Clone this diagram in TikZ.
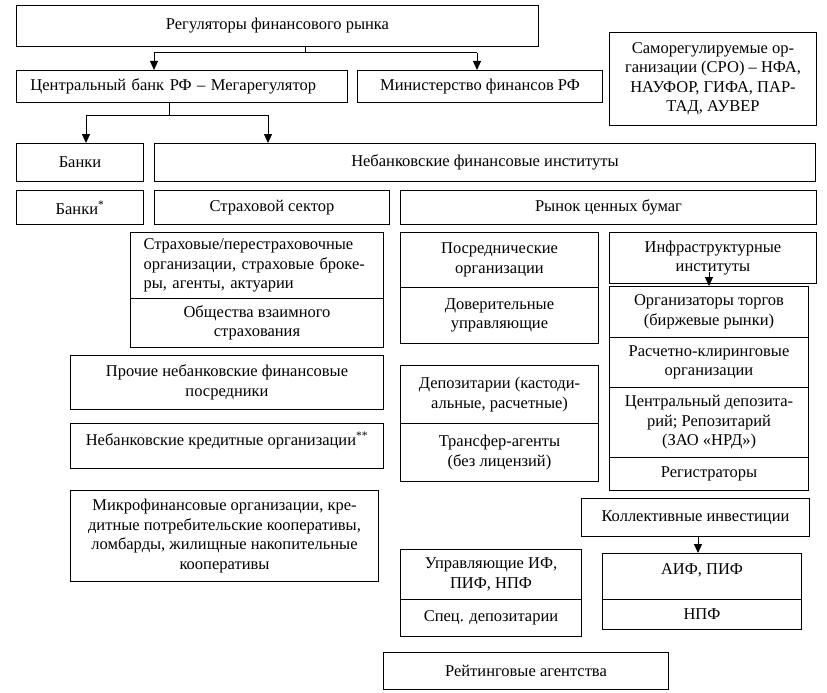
\documentclass[tikz,border=0pt]{standalone}
\usepackage{fontspec}
\setmainfont{Liberation Serif}
\usetikzlibrary{arrows.meta}
\begin{document}
\begin{tikzpicture}[x=1pt,y=-1pt,
  box/.style={draw, line width=1pt, anchor=north west, inner sep=0pt, align=center,
    font=\fontsize{16.5}{19.5}\selectfont},
  lbox/.style={box, align=left},
  link/.style={line width=1pt},
  arr/.style={line width=1pt, -{Triangle[length=9pt,width=8pt]}}]
\useasboundingbox (0,0) rectangle (827,693);
% top level
\node[box, minimum width=522, minimum height=41] (reg) at (16,5) {Регуляторы финансового рынка};
\node[lbox, minimum width=331, minimum height=32, text width=303] (cb) at (16,70) {Центральный банк РФ – Мегарегулятор};
\node[box, minimum width=245, minimum height=32] (minf) at (357,70) {Министерство финансов РФ};
\node[box, minimum width=207, minimum height=93] (sro) at (609,32) {Саморегулируемые ор-\\ганизации (СРО) – НФА,\\НАУФОР, ГИФА, ПАР-\\ТАД, АУВЕР};
% second level
\node[box, minimum width=127, minimum height=38] (banki) at (16,143) {Банки};
\node[box, minimum width=661, minimum height=38] (nbfi) at (154,143) {Небанковские финансовые институты};
\node[box, minimum width=127, minimum height=34] (banki2) at (16,190) {Банки\textsuperscript{*}};
\node[box, minimum width=235, minimum height=34] (ins) at (154,190) {Страховой сектор};
\node[box, minimum width=416, minimum height=34] (rcb) at (400,190) {Рынок ценных бумаг};
% insurance
\node[lbox, minimum width=253, minimum height=66, text width=227] (ins1) at (130,232) {Страховые/перестраховочные\\организации, страховые броке-\\ры, агенты, актуарии};
\node[box, minimum width=253, minimum height=49] (ins2) at (130,298) {Общества взаимного\\страхования};
% left column
\node[box, minimum width=313, minimum height=54] (proch) at (70,355) {Прочие небанковские финансовые\\посредники};
\node[box, minimum width=313, minimum height=45, text depth=14pt] (nko) at (70,423) {Небанковские кредитные организации\textsuperscript{**}};
\node[box, minimum width=308, minimum height=91] (mfo) at (70,490) {Микрофинансовые организации, кре-\\дитные потребительские кооперативы,\\ломбарды, жилищные накопительные\\кооперативы};
% securities: intermediaries
\node[box, minimum width=198, minimum height=55] (pos) at (400,232) {Посреднические\\организации};
\node[box, minimum width=198, minimum height=56] (dov) at (400,287) {Доверительные\\управляющие};
\node[box, minimum width=198, minimum height=58] (depo) at (400,365) {Депозитарии (кастоди-\\альные, расчетные)};
\node[box, minimum width=198, minimum height=58] (trans) at (400,423) {Трансфер-агенты\\(без лицензий)};
% infrastructure
\node[box, minimum width=207, minimum height=51] (infra) at (609,232) {Инфраструктурные\\институты};
\node[box, minimum width=199, minimum height=51] (org) at (609,286) {Организаторы торгов\\(биржевые рынки)};
\node[box, minimum width=199, minimum height=50] (rkl) at (609,337) {Расчетно-клиринговые\\организации};
\node[box, minimum width=199, minimum height=70] (cdep) at (609,387) {Центральный депозита-\\рий; Репозитарий\\(ЗАО «НРД»)};
\node[box, minimum width=199, minimum height=33] (regs) at (609,457) {Регистраторы};
% collective investments
\node[box, minimum width=228, minimum height=38] (koll) at (581,498) {Коллективные инвестиции};
\node[box, minimum width=199, minimum height=46, text depth=14pt] (aif) at (602,553) {АИФ, ПИФ};
\node[box, minimum width=199, minimum height=30] (npf) at (602,599) {НПФ};
\node[box, minimum width=181, minimum height=50] (upr) at (400,549) {Управляющие ИФ,\\ПИФ, НПФ};
\node[box, minimum width=181, minimum height=37] (spec) at (400,599) {Спец. депозитарии};
\node[box, minimum width=285, minimum height=37] (rat) at (383,652) {Рейтинговые агентства};
% connectors
\coordinate (j1) at (305,53);
\coordinate (a1) at (154,53);
\coordinate (a2) at (477,53);
\draw[link] (reg.south -| j1) -- (j1);
\draw[link] (a1) -- (a2);
\draw[arr] (a1) -- (a1 |- cb.north);
\draw[arr] (a2) -- (a2 |- minf.north);
\coordinate (j2) at (169,115);
\coordinate (b1) at (86,115);
\coordinate (b2) at (268,115);
\draw[link] (cb.south -| j2) -- (j2);
\draw[link] (b1) -- (b2);
\draw[arr] (b1) -- (b1 |- banki.north);
\draw[arr] (b2) -- (b2 |- nbfi.north);
\coordinate (c1) at (709,272);
\draw[arr] (c1) -- (c1 |- org.north);
\coordinate (d1) at (698,536);
\draw[arr] (d1) -- (d1 |- aif.north);
\end{tikzpicture}
\end{document}
